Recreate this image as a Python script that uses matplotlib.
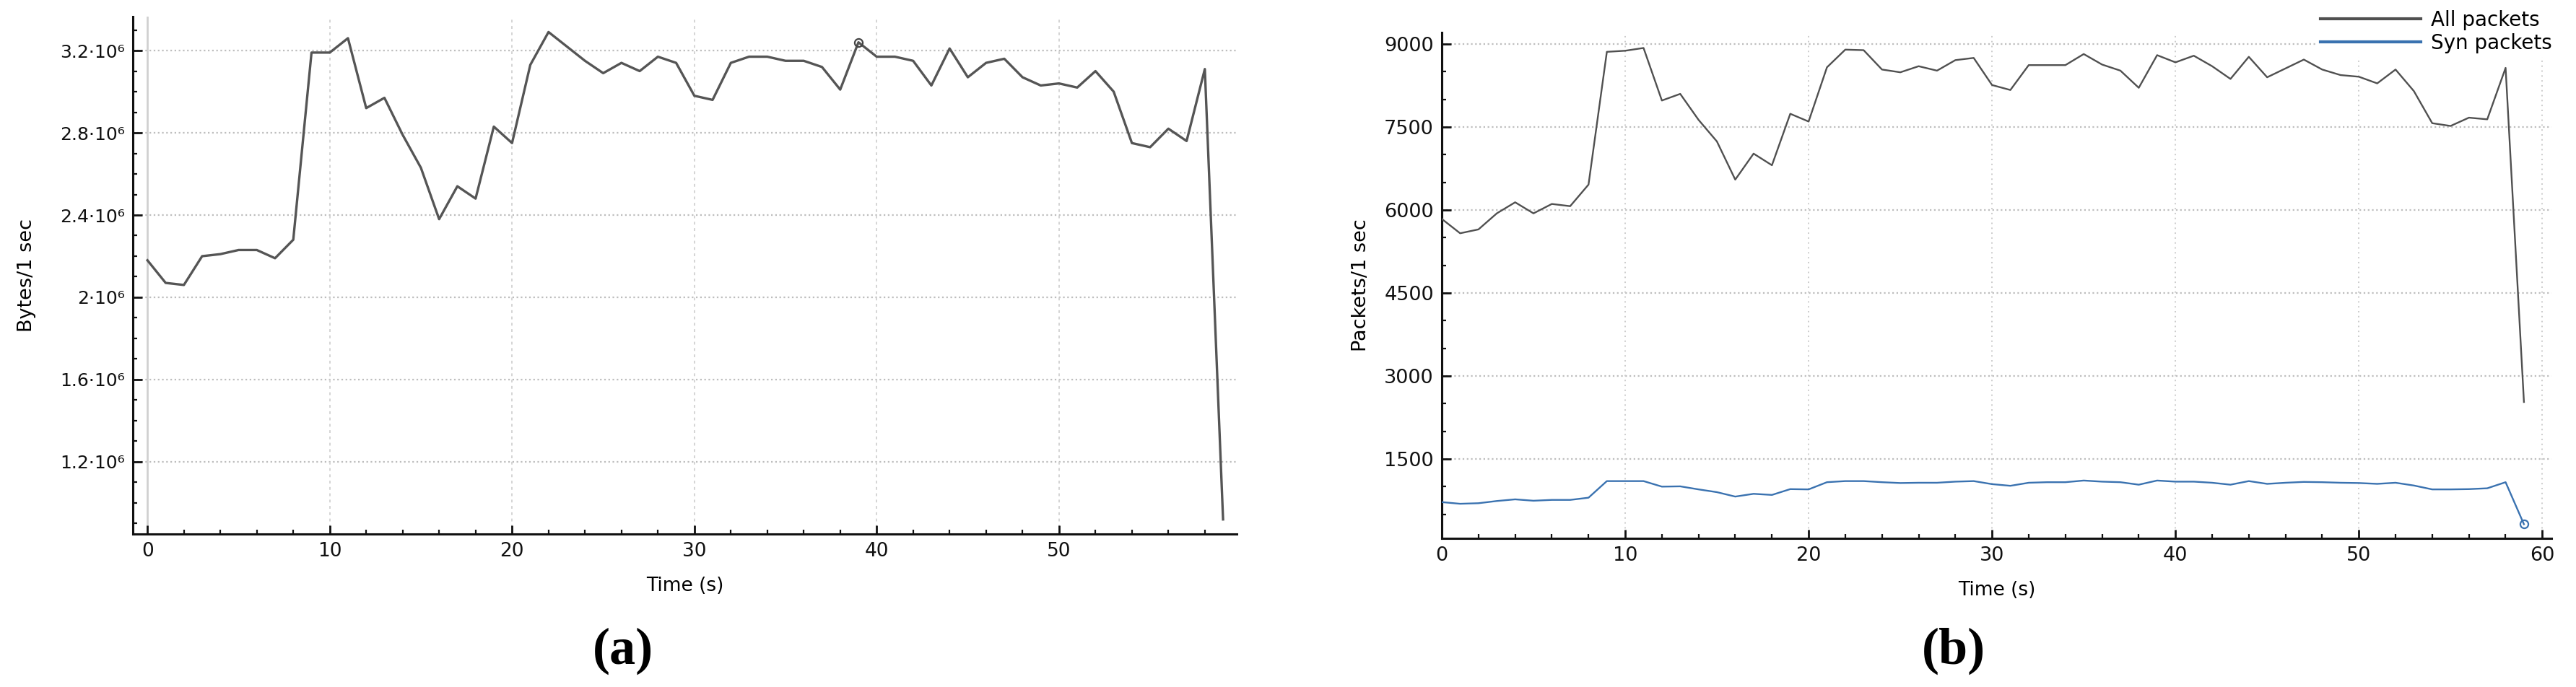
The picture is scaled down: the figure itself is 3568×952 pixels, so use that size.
import numpy as np
import matplotlib.pyplot as plt
from matplotlib.ticker import MultipleLocator

# one sample per second
seconds = list(range(60))

# (a) throughput in units of 10^6 bytes per second
bytes_m = [2.18, 2.07, 2.06, 2.20, 2.21, 2.23, 2.23, 2.19, 2.28, 3.19,
           3.19, 3.26, 2.92, 2.97, 2.79, 2.63, 2.38, 2.54, 2.48, 2.83,
           2.75, 3.13, 3.29, 3.22, 3.15, 3.09, 3.14, 3.10, 3.17, 3.14,
           2.98, 2.96, 3.14, 3.17, 3.17, 3.15, 3.15, 3.12, 3.01, 3.24,
           3.17, 3.17, 3.15, 3.03, 3.21, 3.07, 3.14, 3.16, 3.07, 3.03,
           3.04, 3.02, 3.10, 3.00, 2.75, 2.73, 2.82, 2.76, 3.11, 0.92]

# (b) packets per second
all_packets = [5840, 5580, 5650, 5940, 6140, 5940, 6110, 6070, 6460, 8860,
               8880, 8930, 7980, 8100, 7630, 7240, 6550, 7020, 6810, 7740,
               7600, 8580, 8900, 8890, 8540, 8490, 8600, 8520, 8710, 8750,
               8260, 8170, 8620, 8620, 8620, 8820, 8630, 8520, 8210, 8800,
               8670, 8790, 8600, 8370, 8770, 8400, 8560, 8720, 8540, 8440,
               8410, 8290, 8540, 8150, 7570, 7520, 7670, 7640, 8570, 2530]
syn_packets = [720, 690, 700, 740, 770, 745, 760, 760, 800, 1100,
               1100, 1100, 1000, 1005, 950, 900, 820, 870, 850, 955,
               950, 1080, 1100, 1100, 1080, 1065, 1070, 1070, 1090, 1100,
               1045, 1015, 1070, 1080, 1080, 1110, 1090, 1080, 1035, 1110,
               1090, 1090, 1070, 1035, 1100, 1050, 1070, 1085, 1080, 1070,
               1065, 1050, 1070, 1020, 950, 950, 955, 970, 1080, 320]

ticks_a = [1.2, 1.6, 2.0, 2.4, 2.8, 3.2]
ticklabels_a = ['1.2·10⁶', '1.6·10⁶', '2·10⁶', '2.4·10⁶', '2.8·10⁶', '3.2·10⁶']
ticks_b = [1500, 3000, 4500, 6000, 7500, 9000]

plt.rcParams['font.family'] = ['DejaVu Sans']

W, H = 3568, 952
fig = plt.figure(figsize=(W / 100, H / 100), dpi=100)

def px_axes(x0, y0, x1, y1):
    # pixel box (left, top, right, bottom) -> figure fraction
    return fig.add_axes([x0 / W, 1 - y1 / H, (x1 - x0) / W, (y1 - y0) / H])

def style(ax, tick_fs):
    for s in ['top', 'right']:
        ax.spines[s].set_visible(False)
    for s in ['left', 'bottom']:
        ax.spines[s].set_linewidth(2.2)
        ax.spines[s].set_color('#111111')
    ax.tick_params(which='major', direction='in', length=9, width=2, labelsize=tick_fs,
                   colors='#111111', pad=8)
    ax.tick_params(which='minor', direction='in', length=4, width=1.6, colors='#111111')
    ax.xaxis.set_minor_locator(MultipleLocator(2))

grid_kw = dict(color='#bdbdbd', lw=1.6, ls=(0, (1, 1.6)), zorder=0)

# ---------- (a) ----------
ax1 = px_axes(184, 23, 1713, 740)
ax1.plot(seconds, bytes_m, color='#555555', lw=2.4, zorder=3)
ax1.plot([seconds[39]], [bytes_m[39]], 'o', ms=8, mfc='none', mec='#444444', mew=1.6, zorder=4)
ax1.set_xlim(-0.8, 59.75)
ax1.set_ylim(0.849, 3.365)
ax1.set_xticks([0, 10, 20, 30, 40, 50])
ax1.set_yticks(ticks_a)
ax1.set_yticklabels(ticklabels_a)
ax1.yaxis.set_minor_locator(MultipleLocator(0.1))
style(ax1, 18)
ax1.tick_params(axis='x', labelsize=19)
for y in ticks_a:
    ax1.axhline(y, **grid_kw)
for x in [10, 20, 30, 40, 50]:
    ax1.axvline(x, color='#d4d4d4', lw=1.4, ls=(0, (2, 2.5)), zorder=0)
ax1.axvline(0, color='#d0d0d0', lw=2, zorder=0)
ax1.set_xlabel('Time (s)', fontsize=19, labelpad=16)
ax1.set_ylabel('Bytes/1 sec', fontsize=19.5, labelpad=24)

# ---------- (b) ----------
ax2 = px_axes(1997, 45, 3534, 746)
ax2.plot(seconds, all_packets, color='#505050', lw=1.7, zorder=3, label='All packets')
ax2.plot(seconds, syn_packets, color='#3a72b0', lw=1.7, zorder=3, label='Syn packets')
ax2.plot([seconds[59]], [syn_packets[59]], 'o', ms=8, mfc='none', mec='#3a72b0', mew=1.6, zorder=4)
ax2.set_xlim(0, 60.5)
ax2.set_ylim(65, 9210)
ax2.set_xticks([0, 10, 20, 30, 40, 50, 60])
ax2.set_yticks(ticks_b)
ax2.yaxis.set_minor_locator(MultipleLocator(500))
style(ax2, 19.5)
for y in ticks_b:
    ax2.axhline(y, **grid_kw)
for x in [10, 20, 30, 40, 50, 60]:
    ax2.axvline(x, color='#cccccc', lw=1.4, ls=(0, (1, 2.5)), zorder=0)
ax2.set_xlabel('Time (s)', fontsize=19, labelpad=16)
ax2.set_ylabel('Packets/1 sec', fontsize=19.5, labelpad=14)
leg = ax2.legend(loc='upper right', bbox_to_anchor=(3540 / W, 1 - 8 / H),
                 bbox_transform=fig.transFigure, fontsize=20, handlelength=5,
                 handletextpad=0.5, labelspacing=0.15, borderpad=0.2,
                 frameon=True, fancybox=False, framealpha=1, borderaxespad=0)
leg.get_frame().set_edgecolor('white')
leg.get_frame().set_linewidth(0)
leg.get_lines()[0].set_linewidth(3)
leg.get_lines()[1].set_linewidth(3)

# panel letters
fig.text(863 / W, 1 - 902 / H, '(a)', fontsize=52, fontweight='bold',
         family='Liberation Serif', ha='center', va='center')
fig.text(2706 / W, 1 - 902 / H, '(b)', fontsize=52, fontweight='bold',
         family='Liberation Serif', ha='center', va='center')

fig.savefig('out.png', dpi=100)
